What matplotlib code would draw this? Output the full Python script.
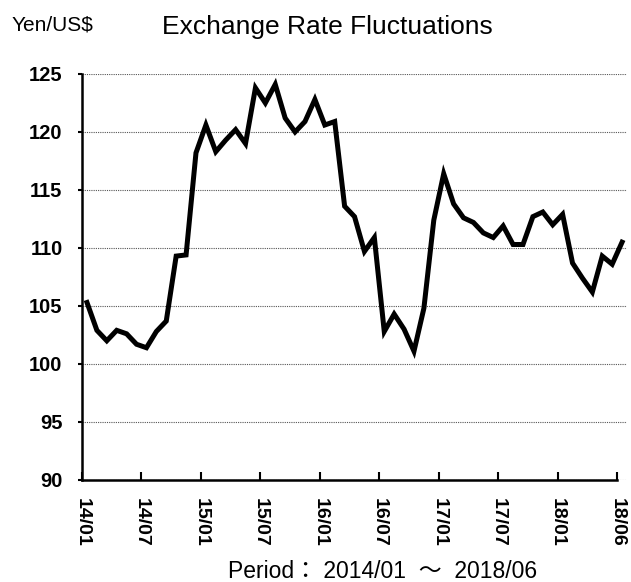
import matplotlib
matplotlib.use("Agg")
import matplotlib.pyplot as plt
from matplotlib.transforms import ScaledTranslation

# monthly rate, 55 points
rates = [105.3, 102.9, 102.0, 102.9, 102.6, 101.7, 101.4, 102.8, 103.7, 109.3,
         109.4, 118.2, 120.6, 118.3, 119.3, 120.2, 119.0, 123.8, 122.5, 124.1,
         121.2, 120.0, 120.9, 122.8, 120.6, 120.9, 113.6, 112.7, 109.7, 110.9,
         102.8, 104.3, 103.0, 101.1, 104.8, 112.4, 116.4, 113.8, 112.6, 112.2,
         111.3, 110.9, 111.9, 110.3, 110.3, 112.7, 113.1, 112.0, 112.9, 108.7,
         107.4, 106.2, 109.3, 108.6, 110.5]
tick_labels = ["14/01", "14/07", "15/01", "15/07", "16/01",
               "16/07", "17/01", "17/07", "18/01", "18/06"]
y_ticks = [90, 95, 100, 105, 110, 115, 120, 125]

plt.rcParams["font.family"] = ["Liberation Sans", "Noto Sans CJK JP", "DejaVu Sans"]

fig = plt.figure(figsize=(6.31, 5.82), dpi=100)
ax = fig.add_axes([0.130, 0.1753, 0.8637, 0.6976])

x = list(range(len(rates)))
ax.plot(x, rates, color="black", lw=3.6, solid_joinstyle="miter")

ax.set_xlim(-0.5, len(rates) - 0.5)
ax.set_ylim(90, 125)
ax.set_yticks(y_ticks)
ax.set_yticklabels([str(v) for v in y_ticks], fontsize=14.5, fontweight="bold")

xt = [6 * k - 0.5 for k in range(len(tick_labels))]
ax.set_xticks(xt)
ax.set_xticklabels(tick_labels, rotation=270, fontsize=14, fontweight="bold",
                   va="top", ha="center")
for lab in ax.get_xticklabels():
    lab.set_transform(lab.get_transform() + ScaledTranslation(0.06, 0, fig.dpi_scale_trans))

ax.yaxis.grid(True, linestyle=(0, (1, 1)), color="#555555", lw=0.8)
ax.set_axisbelow(True)
for s in ["top", "right"]:
    ax.spines[s].set_visible(False)
ax.spines["left"].set_linewidth(1.8)
ax.spines["bottom"].set_linewidth(1.8)
ax.spines["bottom"].set_bounds(-0.5, xt[-1])
ax.tick_params(axis="x", direction="in", length=6, width=1.5, pad=13)
ax.tick_params(axis="y", direction="out", length=3, width=1.5, pad=11)

fig.text(12 / 631, 1 - 25 / 582, "Yen/US$", fontsize=15, ha="left", va="center")
fig.text(162 / 631, 1 - 27 / 582, "Exchange Rate Fluctuations", fontsize=19,
         ha="left", va="center")
fig.text(228 / 631, 1 - 571 / 582, "Period： 2014/01  ～  2018/06", fontsize=16.5,
         ha="left", va="center")

fig.savefig("out.png", dpi=100)
